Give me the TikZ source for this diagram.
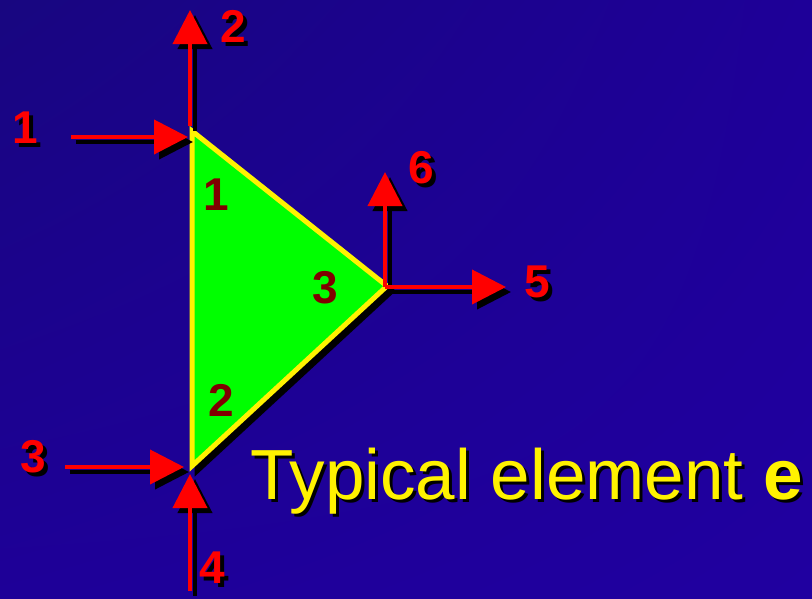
\documentclass[tikz,border=0pt]{standalone}
\usepackage{fontspec}
\setmainfont{Liberation Sans}
\usetikzlibrary{arrows.meta,shadings}
\definecolor{bgA}{RGB}{24,6,128}
\definecolor{bgB}{RGB}{30,0,152}
\definecolor{bgC}{RGB}{32,0,160}
\definecolor{dred}{RGB}{128,0,0}
% text with a black drop shadow, in one box
\newcommand{\shtxt}[4]{\makebox[0pt][l]{\hspace*{#3}\raisebox{-#4}{\textcolor{black}{#2}}}\textcolor{#1}{#2}}
\tikzset{
  arr/.style={draw=red, line width=4pt, -{Triangle[length=34pt,width=34pt,fill=red]}},
  arrsh/.style={draw=black, line width=4pt, -{Triangle[length=34pt,width=34pt,fill=black]}, transform canvas={shift={(5,5)}}},
  lbl/.style={font=\bfseries\fontsize{46}{46}\selectfont, inner sep=0pt},
  inlbl/.style={text=dred, font=\bfseries\fontsize{46}{46}\selectfont, inner sep=0pt},
  elem/.style={fill={rgb,255:red,0;green,255;blue,0}, draw=yellow, line width=5pt, line join=miter},
}
\begin{document}
\begin{tikzpicture}[x=1pt,y=-1pt]
\useasboundingbox (0,0) rectangle (812,598);
\shade[upper left=bgA, upper right=bgB, lower left=bgB, lower right=bgC] (0,0) rectangle (812,598);
% triangle vertices
\coordinate (v1) at (192,131);
\coordinate (v2) at (192,466);
\coordinate (v3) at (387,286);
% arrow end points
\coordinate (a1s) at (71,137);  \coordinate (a1e) at (188,137);
\coordinate (a2s) at (190,126); \coordinate (a2e) at (190,10);
\coordinate (a3s) at (65,467);  \coordinate (a3e) at (184,467);
\coordinate (a4s) at (190,591); \coordinate (a4e) at (190,474);
\coordinate (a6s) at (385,287); \coordinate (a6e) at (385,172);
\coordinate (a5s) at (385,287); \coordinate (a5e) at (506,287);
% triangle shadow and triangle
\fill[black] ([shift={(5,5)}]v1) -- ([shift={(5,5)}]v2) -- ([shift={(5,5)}]v3) -- cycle;
\draw[black, line width=5pt, line join=miter] ([shift={(5,5)}]v1) -- ([shift={(5,5)}]v2) -- ([shift={(5,5)}]v3) -- cycle;
\path[elem] (v1) -- (v2) -- (v3) -- cycle;
% arrow shadows
\draw[arrsh] (a1s) -- (a1e);
\draw[arrsh] (a2s) -- (a2e);
\draw[arrsh] (a3s) -- (a3e);
\draw[arrsh] (a4s) -- (a4e);
\draw[arrsh] (a6s) -- (a6e);
\draw[arrsh] (a5s) -- (a5e);
% arrows
\draw[arr] (a1s) -- (a1e);
\draw[arr] (a2s) -- (a2e);
\draw[arr] (a3s) -- (a3e);
\draw[arr] (a4s) -- (a4e);
\draw[arr] (a6s) -- (a6e);
\draw[arr] (a5s) -- (a5e);
% outer labels
\node[lbl] (l1) at (25,130) {\shtxt{red}{1}{4pt}{4pt}};
\node[lbl] (l2) at (233,28) {\shtxt{red}{2}{4pt}{4pt}};
\node[lbl] (l3) at (33,459) {\shtxt{red}{3}{4pt}{4pt}};
\node[lbl] (l4) at (212,570) {\shtxt{red}{4}{4pt}{4pt}};
\node[lbl] (l6) at (421,170) {\shtxt{red}{6}{4pt}{4pt}};
\node[lbl] (l5) at (537,284) {\shtxt{red}{5}{4pt}{4pt}};
% inner labels
\node[inlbl] (n1) at (216,195) {1};
\node[inlbl] (n3) at (325,288) {3};
\node[inlbl] (n2) at (221,400) {2};
% caption
\node[anchor=base west, inner sep=0pt, font=\fontsize{71}{71}\selectfont] (cap) at (250,499) {\shtxt{yellow}{Typical element \textbf{e}}{3pt}{3pt}};
\end{tikzpicture}
\end{document}
